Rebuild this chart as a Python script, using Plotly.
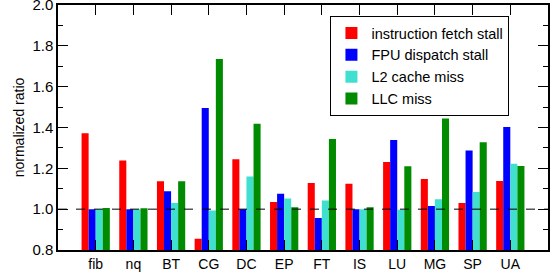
import plotly.graph_objects as go

categories = ["fib", "nq", "BT", "CG", "DC", "EP", "FT", "IS", "LU", "MG", "SP", "UA"]
ifetch = [1.372, 1.238, 1.137, 0.855, 1.244, 1.035, 1.128, 1.125, 1.231, 1.148, 1.030, 1.138]
fpu = [1.0, 1.0, 1.088, 1.496, 1.0, 1.075, 0.957, 1.0, 1.339, 1.016, 1.287, 1.403]
l2 = [1.0, 1.0, 1.030, 0.993, 1.160, 1.052, 1.042, 1.0, 0.997, 1.048, 1.084, 1.223]
llc = [1.006, 1.005, 1.137, 1.736, 1.418, 1.010, 1.344, 1.010, 1.210, 1.444, 1.328, 1.212]
yticks = [0.8, 1.0, 1.2, 1.4, 1.6, 1.8, 2.0]

series = [
    ("instruction fetch stall", ifetch, "#ff0000"),
    ("FPU dispatch stall", fpu, "#0000ff"),
    ("L2 cache miss", l2, "#40e0d0"),
    ("LLC miss", llc, "#008b00"),
]

font = "Liberation Sans, Arial, Helvetica, sans-serif"
fig = go.Figure()
for name, vals, col in series:
    fig.add_trace(go.Bar(x=categories, y=vals, name=name, marker=dict(color=col, line=dict(width=0))))

fig.update_layout(
    width=553, height=275,
    margin=dict(l=58, r=5, t=5, b=25),
    plot_bgcolor="white", paper_bgcolor="white",
    barmode="group", bargap=0.25, bargroupgap=0,
    font=dict(family=font, size=14, color="black"),
    legend=dict(x=0.556, y=0.955, xanchor="left", yanchor="top",
                bordercolor="black", borderwidth=1, bgcolor="white",
                font=dict(size=14.5), tracegroupgap=0, itemwidth=30),
    showlegend=True,
)
fig.update_xaxes(range=[-1, 12], showline=True, linecolor="black", linewidth=1.5, mirror="ticks",
                 ticks="inside", ticklen=10, tickcolor="black", showgrid=False,
                 tickfont=dict(size=14), automargin=False, ticklabeloverflow="allow")
fig.update_yaxes(range=[0.8, 2.0], tickvals=yticks, ticktext=[f"{v:.1f}" for v in yticks],
                 showline=True, linecolor="black",
                 linewidth=1.5, mirror="ticks", ticks="inside", ticklen=10, tickcolor="black",
                 showgrid=False, zeroline=False, tickfont=dict(size=15), automargin=False,
                 ticklabeloverflow="allow",
                 minor=dict(dtick=0.1, tick0=0.8, ticks="inside", ticklen=5, tickcolor="black", showgrid=False),
                 title=dict(text="normalized ratio", font=dict(size=14), standoff=4))
fig.add_shape(type="line", xref="paper", yref="y", x0=0, x1=1, y0=1.0, y1=1.0,
              line=dict(color="black", width=1, dash="dash"))
fig.write_html("out.html", config={"displayModeBar": False},
               post_script="document.body.style.margin='0';document.body.style.padding='0';")
